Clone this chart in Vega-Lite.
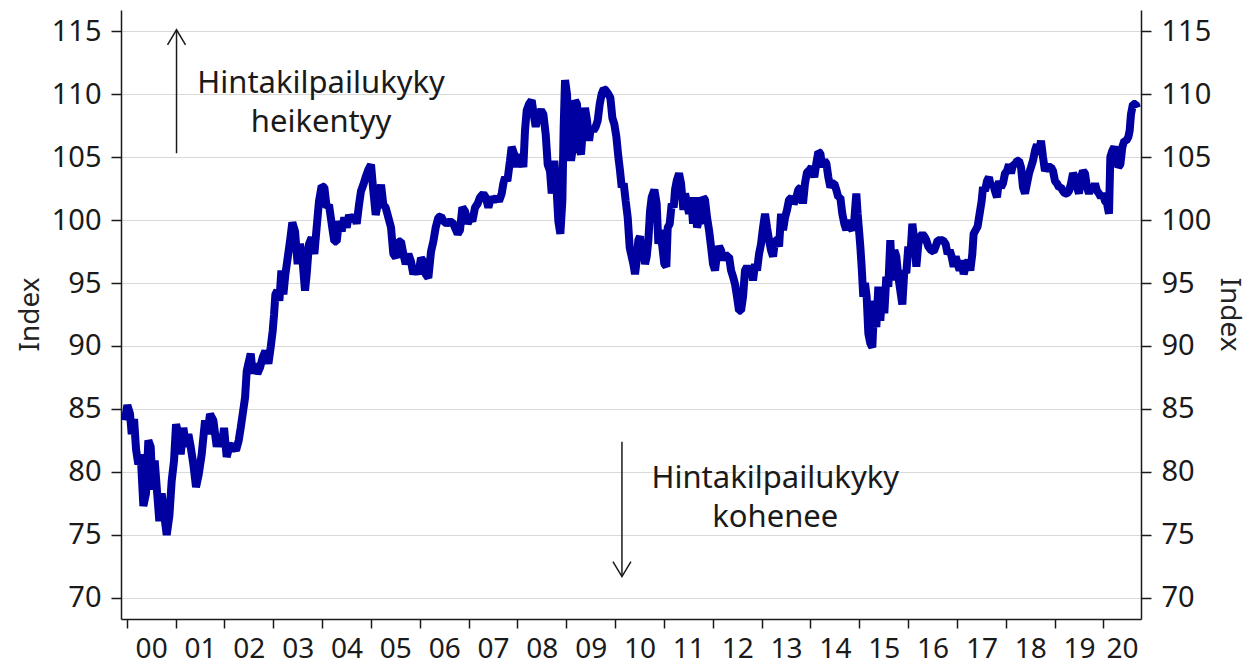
{
"$schema": "https://vega.github.io/schema/vega-lite/v6.json",
"width": 1020, "height": 609,
"autosize": "none",
"padding": {"left": 121, "top": 10, "right": 109, "bottom": 47},
"background": "white",
"config": {
  "view": {"stroke": null},
  "font": "Noto Sans",
  "axis": {"labelFont": "Noto Sans", "titleFont": "Noto Sans", "labelFontSize": 29, "titleFontSize": 28, "titleFontWeight": "normal",
    "labelColor": "#1a1a1a", "titleColor": "#222222", "tickColor": "#1a1a1a", "domainColor": "#1a1a1a", "domainWidth": 1.5, "tickWidth": 1.5,
    "gridColor": "#d9d9d9", "gridWidth": 1.2, "labelFlush": false, "labelOverlap": false, "labelBound": false}
},
"datasets": {
"series": [
{"t":1999.965,"v":84.1},{"t":2000.013,"v":85.3},{"t":2000.068,"v":84.6},{"t":2000.102,"v":83.0},{"t":2000.150,"v":84.2},{"t":2000.191,"v":81.8},{"t":2000.238,"v":80.6},{"t":2000.286,"v":81.4},{"t":2000.341,"v":77.3},{"t":2000.395,"v":78.3},{"t":2000.443,"v":82.5},{"t":2000.491,"v":82.0},{"t":2000.532,"v":78.6},{"t":2000.573,"v":80.9},{"t":2000.614,"v":78.8},{"t":2000.668,"v":76.1},{"t":2000.716,"v":78.3},{"t":2000.764,"v":76.7},{"t":2000.819,"v":75.0},{"t":2000.873,"v":76.5},{"t":2000.921,"v":79.3},{"t":2000.969,"v":80.9},{"t":2001.010,"v":83.8},{"t":2001.057,"v":83.0},{"t":2001.105,"v":81.4},{"t":2001.160,"v":83.5},{"t":2001.215,"v":82.0},{"t":2001.262,"v":83.0},{"t":2001.310,"v":82.0},{"t":2001.365,"v":80.6},{"t":2001.419,"v":78.8},{"t":2001.474,"v":79.8},{"t":2001.535,"v":81.4},{"t":2001.604,"v":84.1},{"t":2001.651,"v":83.0},{"t":2001.706,"v":84.6},{"t":2001.774,"v":84.1},{"t":2001.843,"v":82.0},{"t":2001.897,"v":83.0},{"t":2001.945,"v":82.0},{"t":2001.993,"v":83.5},{"t":2002.047,"v":81.2},{"t":2002.102,"v":82.0},{"t":2002.170,"v":82.1},{"t":2002.238,"v":81.7},{"t":2002.293,"v":82.5},{"t":2002.334,"v":83.5},{"t":2002.375,"v":84.6},{"t":2002.423,"v":85.9},{"t":2002.457,"v":88.0},{"t":2002.491,"v":88.6},{"t":2002.539,"v":89.4},{"t":2002.580,"v":87.8},{"t":2002.627,"v":88.6},{"t":2002.675,"v":87.8},{"t":2002.730,"v":88.3},{"t":2002.785,"v":89.1},{"t":2002.839,"v":89.6},{"t":2002.901,"v":88.6},{"t":2002.948,"v":89.9},{"t":2002.989,"v":91.2},{"t":2003.017,"v":92.5},{"t":2003.044,"v":94.1},{"t":2003.085,"v":94.4},{"t":2003.126,"v":93.6},{"t":2003.167,"v":96.0},{"t":2003.208,"v":94.1},{"t":2003.249,"v":95.7},
{"t":2003.343,"v":98.3},{"t":2003.391,"v":99.8},{"t":2003.446,"v":99.1},{"t":2003.500,"v":96.5},{"t":2003.548,"v":98.1},{"t":2003.596,"v":97.0},{"t":2003.651,"v":94.4},{"t":2003.685,"v":95.7},{"t":2003.732,"v":98.1},{"t":2003.787,"v":98.6},{"t":2003.842,"v":97.3},{"t":2003.889,"v":99.4},{"t":2003.937,"v":101.5},{"t":2003.992,"v":102.7},{"t":2004.046,"v":102.6},{"t":2004.094,"v":101.0},{"t":2004.142,"v":101.2},{"t":2004.197,"v":99.7},{"t":2004.251,"v":98.3},{"t":2004.299,"v":98.3},{"t":2004.347,"v":99.9},{"t":2004.401,"v":99.1},{"t":2004.456,"v":100.2},{"t":2004.504,"v":99.4},{"t":2004.552,"v":100.4},{"t":2004.606,"v":99.9},{"t":2004.661,"v":100.4},{"t":2004.709,"v":99.7},{"t":2004.756,"v":101.2},{"t":2004.797,"v":102.3},{"t":2004.845,"v":102.8},{"t":2004.893,"v":103.4},{"t":2004.948,"v":104.0},{"t":2005.002,"v":104.4},{"t":2005.043,"v":102.6},{"t":2005.098,"v":100.4},{"t":2005.152,"v":101.5},{"t":2005.207,"v":102.8},{"t":2005.255,"v":101.2},{"t":2005.302,"v":101.0},{"t":2005.357,"v":100.2},{"t":2005.412,"v":99.4},{"t":2005.459,"v":97.3},{"t":2005.514,"v":97.0},{"t":2005.562,"v":98.3},{"t":2005.616,"v":98.3},{"t":2005.664,"v":97.3},{"t":2005.712,"v":96.5},{"t":2005.767,"v":97.3},{"t":2005.821,"v":96.7},{"t":2005.869,"v":95.7},{"t":2005.917,"v":96.2},{"t":2005.971,"v":95.7},{"t":2006.026,"v":97.0},{"t":2006.074,"v":96.7},{"t":2006.122,"v":95.7},{"t":2006.176,"v":95.4},{"t":2006.231,"v":97.5},{"t":2006.279,"v":98.3},{"t":2006.326,"v":99.4},{"t":2006.381,"v":100.2},{"t":2006.436,"v":100.3},{"t":2006.490,"v":99.9},{"t":2006.552,"v":99.7},{"t":2006.620,"v":99.9},{"t":2006.688,"v":99.7},
{"t":2006.777,"v":98.9},{"t":2006.824,"v":99.2},{"t":2006.872,"v":101.0},{"t":2006.927,"v":100.7},{"t":2006.981,"v":99.7},{"t":2007.029,"v":100.2},{"t":2007.077,"v":99.9},{"t":2007.132,"v":101.0},{"t":2007.186,"v":101.3},{"t":2007.234,"v":101.8},{"t":2007.302,"v":102.1},{"t":2007.350,"v":101.8},{"t":2007.405,"v":101.0},{"t":2007.459,"v":101.8},{"t":2007.514,"v":101.5},{"t":2007.575,"v":101.8},{"t":2007.623,"v":101.5},{"t":2007.678,"v":102.1},{"t":2007.712,"v":102.9},{"t":2007.746,"v":103.4},{"t":2007.794,"v":103.1},{"t":2007.848,"v":104.7},{"t":2007.882,"v":105.8},{"t":2007.937,"v":105.2},{"t":2007.985,"v":104.2},{"t":2008.033,"v":105.2},{"t":2008.087,"v":104.7},{"t":2008.121,"v":104.2},{"t":2008.155,"v":107.1},{"t":2008.190,"v":108.7},{"t":2008.237,"v":109.2},{"t":2008.292,"v":109.5},{"t":2008.333,"v":108.4},{"t":2008.374,"v":107.4},{"t":2008.429,"v":108.4},{"t":2008.483,"v":108.7},{"t":2008.531,"v":108.4},{"t":2008.579,"v":106.8},{"t":2008.620,"v":104.4},{"t":2008.667,"v":103.9},{"t":2008.702,"v":102.1},{"t":2008.756,"v":104.7},{"t":2008.804,"v":102.3},{"t":2008.838,"v":99.9},{"t":2008.879,"v":98.9},{"t":2008.920,"v":101.5},{"t":2008.947,"v":107.4},{"t":2008.975,"v":111.1},{"t":2009.015,"v":110.0},{"t":2009.056,"v":106.3},{"t":2009.097,"v":104.7},{"t":2009.138,"v":105.8},{"t":2009.179,"v":109.5},{"t":2009.220,"v":109.2},{"t":2009.261,"v":105.8},{"t":2009.302,"v":105.2},{"t":2009.343,"v":107.4},{"t":2009.384,"v":108.9},{"t":2009.425,"v":107.9},{"t":2009.466,"v":106.3},{"t":2009.507,"v":107.4},{"t":2009.555,"v":107.1},{"t":2009.603,"v":107.4},{"t":2009.644,"v":107.9},{"t":2009.685,"v":109.2},{"t":2009.725,"v":110.0},{"t":2009.766,"v":110.4},{"t":2009.807,"v":110.3},{"t":2009.862,"v":110.0},{"t":2009.903,"v":109.7},{"t":2009.944,"v":108.1},{"t":2009.985,"v":107.6},{"t":2010.026,"v":106.6},{"t":2010.067,"v":105.0},{"t":2010.101,"v":103.9},{"t":2010.135,"v":102.6},{"t":2010.176,"v":102.9},{"t":2010.217,"v":101.5},{"t":2010.258,"v":100.2},{"t":2010.299,"v":97.8},
{"t":2010.374,"v":96.5},{"t":2010.408,"v":95.7},{"t":2010.442,"v":96.8},{"t":2010.476,"v":98.4},{"t":2010.510,"v":98.7},{"t":2010.544,"v":96.8},{"t":2010.578,"v":98.1},{"t":2010.613,"v":96.5},{"t":2010.647,"v":97.1},{"t":2010.681,"v":98.4},{"t":2010.715,"v":100.7},{"t":2010.749,"v":101.8},{"t":2010.804,"v":102.4},{"t":2010.851,"v":101.3},{"t":2010.886,"v":98.1},{"t":2010.927,"v":99.2},{"t":2010.967,"v":97.9},{"t":2011.008,"v":96.5},{"t":2011.049,"v":96.3},{"t":2011.077,"v":99.4},{"t":2011.118,"v":99.7},{"t":2011.159,"v":101.3},{"t":2011.200,"v":101.0},{"t":2011.227,"v":102.4},{"t":2011.261,"v":103.1},{"t":2011.309,"v":103.7},{"t":2011.350,"v":102.9},{"t":2011.398,"v":100.8},{"t":2011.432,"v":102.1},{"t":2011.473,"v":101.3},{"t":2011.514,"v":100.5},{"t":2011.555,"v":101.8},{"t":2011.596,"v":99.7},{"t":2011.636,"v":101.8},{"t":2011.677,"v":99.4},{"t":2011.718,"v":100.0},{"t":2011.759,"v":99.7},{"t":2011.800,"v":101.8},{"t":2011.841,"v":101.6},{"t":2011.882,"v":100.2},{"t":2011.923,"v":99.2},{"t":2011.964,"v":97.9},{"t":2012.005,"v":96.5},{"t":2012.046,"v":96.0},{"t":2012.087,"v":97.3},{"t":2012.128,"v":97.9},{"t":2012.169,"v":97.6},{"t":2012.210,"v":96.8},{"t":2012.251,"v":97.3},{"t":2012.292,"v":97.1},{"t":2012.333,"v":97.1},{"t":2012.374,"v":96.0},{"t":2012.415,"v":95.5},{"t":2012.456,"v":94.9},{"t":2012.497,"v":93.9},{"t":2012.537,"v":92.8},{"t":2012.578,"v":92.8},{"t":2012.619,"v":93.9},{"t":2012.660,"v":96.0},{"t":2012.701,"v":96.3},{"t":2012.742,"v":96.0},{"t":2012.783,"v":96.3},{"t":2012.824,"v":95.2},{"t":2012.865,"v":96.5},{"t":2012.906,"v":96.0},{"t":2012.947,"v":97.3},{"t":2012.988,"v":98.1},{"t":2013.029,"v":99.4},{"t":2013.070,"v":100.5},{"t":2013.111,"v":99.4},{"t":2013.152,"v":98.4},{"t":2013.193,"v":97.6},{"t":2013.234,"v":97.1},{"t":2013.275,"v":98.4},{"t":2013.316,"v":98.4},{"t":2013.357,"v":97.9},{"t":2013.398,"v":100.5},{"t":2013.439,"v":99.2},{"t":2013.480,"v":100.2},{"t":2013.520,"v":100.8},{"t":2013.561,"v":101.6},{"t":2013.616,"v":101.8},{"t":2013.657,"v":101.3},{"t":2013.698,"v":101.6},
{"t":2013.751,"v":102.4},{"t":2013.806,"v":102.6},{"t":2013.847,"v":101.3},{"t":2013.888,"v":102.9},{"t":2013.929,"v":103.8},{"t":2013.970,"v":103.9},{"t":2014.024,"v":104.2},{"t":2014.079,"v":103.4},{"t":2014.120,"v":104.5},{"t":2014.161,"v":105.4},{"t":2014.202,"v":105.3},{"t":2014.243,"v":104.2},{"t":2014.284,"v":104.7},{"t":2014.325,"v":104.5},{"t":2014.366,"v":103.4},{"t":2014.407,"v":102.6},{"t":2014.448,"v":102.9},{"t":2014.488,"v":102.9},{"t":2014.529,"v":102.4},{"t":2014.570,"v":101.8},{"t":2014.611,"v":101.8},{"t":2014.652,"v":100.5},{"t":2014.693,"v":99.7},{"t":2014.734,"v":99.2},{"t":2014.775,"v":100.0},{"t":2014.816,"v":99.4},{"t":2014.857,"v":99.2},{"t":2014.898,"v":100.0},{"t":2014.939,"v":102.1},{"t":2014.966,"v":100.5},{"t":2014.994,"v":99.2},{"t":2015.021,"v":97.9},{"t":2015.048,"v":96.3},{"t":2015.082,"v":93.9},{"t":2015.116,"v":95.0},{"t":2015.151,"v":93.9},{"t":2015.185,"v":91.0},{"t":2015.226,"v":90.2},{"t":2015.267,"v":89.9},{"t":2015.308,"v":93.6},{"t":2015.349,"v":91.5},{"t":2015.390,"v":94.7},{"t":2015.430,"v":92.0},{"t":2015.471,"v":94.4},{"t":2015.512,"v":92.6},{"t":2015.553,"v":95.5},{"t":2015.594,"v":94.7},{"t":2015.635,"v":98.4},{"t":2015.676,"v":95.2},{"t":2015.717,"v":97.6},{"t":2015.758,"v":97.1},{"t":2015.799,"v":95.5},{"t":2015.840,"v":94.4},{"t":2015.881,"v":93.3},{"t":2015.922,"v":96.0},{"t":2015.963,"v":95.8},{"t":2016.004,"v":97.9},{"t":2016.045,"v":97.1},{"t":2016.086,"v":99.7},{"t":2016.127,"v":98.4},{"t":2016.168,"v":96.3},{"t":2016.209,"v":98.1},{"t":2016.250,"v":98.7},{"t":2016.291,"v":98.9},{"t":2016.332,"v":98.7},{"t":2016.372,"v":98.4},{"t":2016.413,"v":97.9},{"t":2016.468,"v":97.6},{"t":2016.523,"v":97.5},{"t":2016.564,"v":97.9},{"t":2016.605,"v":98.4},{"t":2016.659,"v":98.4},{"t":2016.714,"v":98.4},{"t":2016.768,"v":98.1},{"t":2016.809,"v":97.3},{"t":2016.850,"v":97.6},{"t":2016.891,"v":97.1},{"t":2016.932,"v":96.3},{"t":2016.973,"v":97.1},{"t":2017.014,"v":96.5},{"t":2017.055,"v":96.0},{"t":2017.096,"v":96.8},{"t":2017.137,"v":95.7},{"t":2017.178,"v":96.3},
{"t":2017.232,"v":96.8},{"t":2017.273,"v":96.0},{"t":2017.314,"v":97.3},{"t":2017.341,"v":98.9},{"t":2017.382,"v":99.2},{"t":2017.423,"v":99.5},{"t":2017.464,"v":100.5},{"t":2017.505,"v":101.5},{"t":2017.533,"v":102.6},{"t":2017.574,"v":102.3},{"t":2017.615,"v":103.1},{"t":2017.655,"v":103.4},{"t":2017.696,"v":102.6},{"t":2017.737,"v":102.9},{"t":2017.778,"v":102.3},{"t":2017.819,"v":101.8},{"t":2017.860,"v":103.1},{"t":2017.901,"v":102.6},{"t":2017.942,"v":102.9},{"t":2017.983,"v":103.7},{"t":2018.024,"v":103.9},{"t":2018.065,"v":104.4},{"t":2018.106,"v":103.7},{"t":2018.147,"v":104.4},{"t":2018.188,"v":104.4},{"t":2018.229,"v":104.7},{"t":2018.270,"v":104.7},{"t":2018.311,"v":104.2},{"t":2018.352,"v":102.6},{"t":2018.393,"v":102.1},{"t":2018.434,"v":102.9},{"t":2018.475,"v":103.7},{"t":2018.516,"v":104.2},{"t":2018.556,"v":104.7},{"t":2018.597,"v":105.5},{"t":2018.638,"v":106.0},{"t":2018.679,"v":105.2},{"t":2018.720,"v":106.3},{"t":2018.761,"v":105.0},{"t":2018.802,"v":103.9},{"t":2018.843,"v":104.2},{"t":2018.884,"v":104.2},{"t":2018.925,"v":104.2},{"t":2018.966,"v":103.9},{"t":2019.007,"v":103.1},{"t":2019.048,"v":102.9},{"t":2019.089,"v":102.6},{"t":2019.130,"v":102.6},{"t":2019.171,"v":102.3},{"t":2019.212,"v":102.1},{"t":2019.253,"v":102.1},{"t":2019.294,"v":102.3},{"t":2019.335,"v":102.9},{"t":2019.376,"v":103.7},{"t":2019.417,"v":103.4},{"t":2019.457,"v":102.6},{"t":2019.498,"v":102.1},{"t":2019.539,"v":103.4},{"t":2019.580,"v":103.9},{"t":2019.621,"v":103.7},{"t":2019.662,"v":102.6},{"t":2019.703,"v":102.1},{"t":2019.744,"v":102.6},{"t":2019.785,"v":102.3},{"t":2019.826,"v":102.9},{"t":2019.867,"v":102.3},{"t":2019.908,"v":102.1},{"t":2019.949,"v":101.8},{"t":2019.990,"v":102.1},{"t":2020.031,"v":101.5},{"t":2020.072,"v":101.3},{"t":2020.113,"v":100.5},{"t":2020.140,"v":105.0},{"t":2020.181,"v":105.5},{"t":2020.222,"v":105.8},{"t":2020.263,"v":105.2},{"t":2020.304,"v":104.2},{"t":2020.345,"v":104.4},{"t":2020.386,"v":105.8},{"t":2020.427,"v":106.3},{"t":2020.468,"v":106.3},{"t":2020.509,"v":106.6},{"t":2020.536,"v":107.1},{"t":2020.563,"v":108.4},{"t":2020.604,"v":109.2},{"t":2020.659,"v":109.2},{"t":2020.686,"v":108.9}
],
"notes": [
{"x": 2003.98, "y": 110.05, "label": ["Hintakilpailukyky", "heikentyy"]},
{"x": 2013.28, "y": 78.7, "label": ["Hintakilpailukyky", "kohenee"]}
],
"arrows": [
{"x": 2001.02, "y1": 105.3, "y2": 115.1, "dir": "up"},
{"x": 2010.14, "y1": 82.4, "y2": 71.7, "dir": "down"}
]
},
"layer": [
{
  "data": {"name": "series"},
  "mark": {"type": "line", "color": "#0000a0", "strokeWidth": 8, "strokeJoin": "bevel", "strokeCap": "butt"},
  "encoding": {
    "x": {"field": "t", "type": "quantitative", "scale": {"domain": [1999.883, 2020.768], "nice": false, "zero": false},
      "axis": {"orient": "bottom", "values": [2000,2001,2002,2003,2004,2005,2006,2007,2008,2009,2010,2011,2012,2013,2014,2015,2016,2017,2018,2019,2020],
        "labels": false, "ticks": true, "tickSize": 9, "domain": true, "grid": false, "title": null}},
    "y": {"field": "v", "type": "quantitative", "scale": {"domain": [68.33, 116.67], "nice": false, "zero": false},
      "axis": {"orient": "left", "values": [70,75,80,85,90,95,100,105,110,115], "grid": true, "tickSize": 10, "labelPadding": 10,
        "title": "Index", "titleX": -91, "titleY": 304, "titleBaseline": "middle", "titleAngle": 270}}
  }
},
{
  "data": {"name": "notes"},
  "mark": {"type": "text", "fontSize": 31, "lineHeight": 39, "align": "center", "baseline": "alphabetic", "color": "#1a1a1a", "font": "Noto Sans"},
  "encoding": {
    "x": {"field": "x", "type": "quantitative",
      "axis": {"orient": "bottom", "values": [2000.5,2001.5,2002.5,2003.5,2004.5,2005.5,2006.5,2007.5,2008.5,2009.5,2010.5,2011.5,2012.5,2013.5,2014.5,2015.5,2016.5,2017.5,2018.5,2019.5,2020.38],
        "labelExpr": "slice(toString(floor(datum.value)), 2)", "ticks": false, "tickSize": 9, "labelPadding": 16, "labelFontSize": 28, "domain": false, "grid": false, "title": null}},
    "y": {"field": "y", "type": "quantitative",
      "axis": {"orient": "right", "values": [70,75,80,85,90,95,100,105,110,115], "grid": false, "tickSize": 10, "labelPadding": 10, "domain": true,
        "title": "Index", "titleX": 87, "titleY": 304, "titleBaseline": "middle", "titleAngle": 90}},
    "text": {"field": "label", "type": "nominal"}
  }
},
{
  "data": {"name": "arrows"},
  "mark": {"type": "rule", "color": "#1a1a1a", "strokeWidth": 1.5},
  "encoding": {
    "x": {"field": "x", "type": "quantitative", "axis": null},
    "y": {"field": "y1", "type": "quantitative", "axis": null},
    "y2": {"field": "y2"}
  }
},
{
  "data": {"name": "arrows"},
  "mark": {"type": "point", "filled": false, "size": 900, "stroke": "#1a1a1a", "strokeWidth": 1.5, "opacity": 1},
  "encoding": {
    "x": {"field": "x", "type": "quantitative", "axis": null},
    "y": {"field": "y2", "type": "quantitative", "axis": null},
    "shape": {"field": "dir", "type": "nominal", "scale": {"domain": ["up", "down"], "range": ["M-0.6,1L0,0L0.6,1", "M-0.6,-1L0,0L0.6,-1"]}, "legend": null}
  }
}
],
"resolve": {"axis": {"x": "independent", "y": "independent"}}
}
